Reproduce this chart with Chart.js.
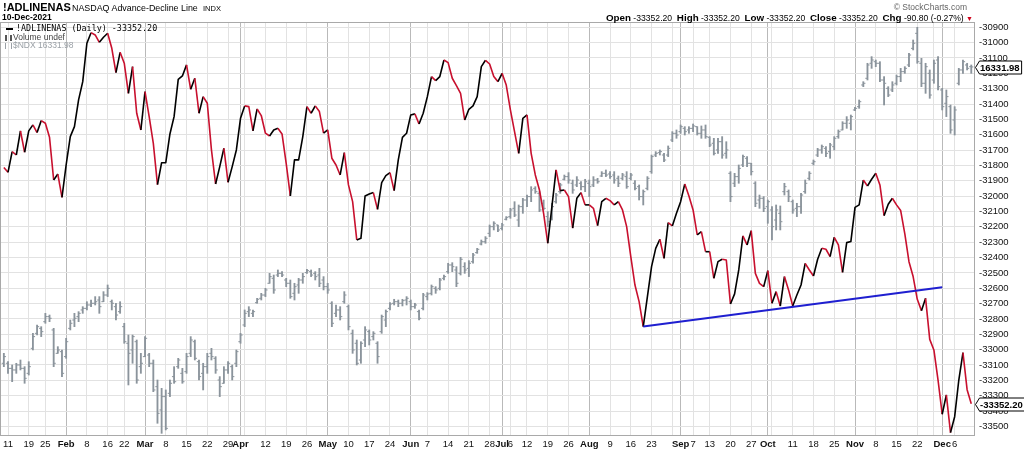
<!DOCTYPE html>
<html><head><meta charset="utf-8">
<script src="https://cdn.jsdelivr.net/npm/chart.js@4.4.1/dist/chart.umd.min.js"></script>
<style>
html,body{margin:0;padding:0;background:#fff;}
#wrap{position:relative;width:1024px;height:452px;overflow:hidden;font-family:"Liberation Sans",Arial,sans-serif;color:#000;}
#c{position:absolute;left:0;top:0;}
.t{position:absolute;white-space:nowrap;line-height:1;}
</style></head><body>
<div id="wrap">
<canvas id="c" width="1024" height="452"></canvas>
<div class="t" style="left:3px;top:2px;font-weight:bold;font-size:11px;">!ADLINENAS</div>
<div class="t" style="left:72px;top:3.5px;font-size:8.9px;">NASDAQ Advance-Decline Line</div>
<div class="t" style="left:203px;top:4.5px;font-size:7.5px;">INDX</div>
<div class="t" style="left:2px;top:13px;font-weight:bold;font-size:8.5px;">10-Dec-2021</div>
<div class="t" style="left:6px;top:24px;font-family:'DejaVu Sans Mono',monospace;font-size:8.4px;"><span style="display:inline-block;width:7px;height:2px;background:#000;vertical-align:middle;margin-right:3px"></span>!ADLINENAS (Daily) -33352.20</div>
<div class="t" style="left:5px;top:33px;font-size:8.5px;color:#444;"><span style="display:inline-block;width:7px;height:6px;border-left:2px solid #555;border-right:2px solid #555;box-sizing:border-box;margin-right:1px;vertical-align:-1px"></span>Volume undef</div>
<div class="t" style="left:5px;top:41px;font-size:8.5px;color:#9aa0a6;"><span style="display:inline-block;width:7px;height:6px;border-left:1px solid #9aa0a6;border-right:1px solid #9aa0a6;box-sizing:border-box;margin-right:1px;vertical-align:-1px"></span>$NDX 16331.98</div>
<div class="t" style="right:57px;top:3px;font-size:8.5px;color:#666;">© StockCharts.com</div>
<div class="t" style="right:51px;top:12.5px;font-size:8.6px;"><b style="font-size:9.8px">Open</b> -33352.20&nbsp; <b style="font-size:9.8px">High</b> -33352.20&nbsp; <b style="font-size:9.8px">Low</b> -33352.20&nbsp; <b style="font-size:9.8px">Close</b> -33352.20&nbsp; <b style="font-size:9.8px">Chg</b> -90.80 (-0.27%) <span style="color:#d0021b;font-size:7px">▼</span></div>
</div>
<script>
// ---- data (one value per trading day, Jan 8 2021 .. Dec 10 2021) ----
const adLine = [
-31814,-31845,-31710,-31732,-31575,-31714,-31575,-31536,-31586,-31508,
-31525,-31617,-31895,-31856,-32008,-31797,-31612,-31547,-31373,-31254,
-31004,-30935,-30950,-30998,-30965,-30939,-31037,-31195,-31063,-31134,
-31330,-31156,-31460,-31569,-31319,-31482,-31656,-31925,-31782,-31782,
-31595,-31482,-31239,-31217,-31145,-31304,-31232,-31460,-31352,-31395,
-31699,-31921,-31808,-31688,-31910,-31808,-31699,-31493,-31412,-31417,
-31575,-31432,-31475,-31590,-31608,-31569,-31558,-31595,-31786,-31999,
-31764,-31764,-31612,-31417,-31460,-31412,-31449,-31590,-31569,-31753,
-31797,-31862,-31716,-31927,-32036,-32285,-32275,-31999,-31986,-31977,
-32086,-31912,-31866,-31847,-31964,-31764,-31617,-31590,-31471,-31464,
-31530,-31460,-31352,-31221,-31247,-31221,-31113,-31130,-31232,-31280,
-31330,-31504,-31434,-31412,-31352,-31156,-31115,-31139,-31221,-31254,
-31200,-31276,-31438,-31580,-31721,-31493,-31471,-31721,-31862,-31960,
-32112,-32307,-32068,-31829,-31964,-31960,-32003,-32209,-32014,-31977,
-32057,-32057,-32079,-32192,-32036,-32014,-32029,-32057,-32036,-32090,
-32199,-32394,-32579,-32687,-32850,-32655,-32459,-32340,-32281,-32405,
-32173,-32194,-32112,-32036,-31921,-31999,-32090,-32253,-32231,-32362,
-32362,-32535,-32427,-32411,-32416,-32703,-32637,-32481,-32259,-32318,
-32225,-32503,-32568,-32590,-32485,-32698,-32622,-32716,-32524,-32611,
-32716,-32644,-32579,-32438,-32481,-32520,-32411,-32340,-32346,-32394,
-32268,-32318,-32496,-32303,-32296,-32073,-32057,-31895,-31934,-31890,
-31851,-31927,-32127,-32053,-32014,-32057,-32094,-32246,-32427,-32524,
-32672,-32746,-32666,-32933,-33002,-33198,-33421,-33295,-33541,-33437,
-33198,-33020,-33261,-33352.20];

const ndxOpen = [
12998,12998,12941,12923,12979,12941,12885,13166,13335,13391,
13466,13523,13373,13110,13129,13073,13391,13485,13523,13598,
13616,13654,13673,13710,13691,13766,13691,13635,13579,13410,
13223,13148,13241,12960,13073,13091,12998,12735,12473,12623,
12660,12848,12960,12885,12904,13110,13241,13016,12885,12960,
13110,13054,12810,12773,12923,12960,12998,13241,13429,13579,
13560,13680,13729,13766,13898,13954,13991,14010,13935,13898,
13785,13879,13935,14018,14029,14010,13991,13935,13860,13673,
13560,13598,13691,13635,13335,13223,13035,13260,13354,13298,
13223,13354,13485,13616,13673,13691,13673,13710,13691,13635,
13579,13616,13748,13785,13841,13841,13954,14029,14104,14048,
14010,14085,14066,14141,14243,14340,14366,14460,14535,14554,
14516,14618,14648,14741,14610,14760,14835,14873,14966,14910,
14798,14648,14629,14816,14929,15068,15098,15023,15004,15023,
14985,15023,15004,15060,15105,15135,15128,15116,15079,15079,
15098,15079,15023,14985,14873,14966,15154,15341,15368,15341,
15341,15510,15585,15604,15641,15623,15641,15660,15585,15623,
15540,15473,15398,15491,15360,15135,15023,15098,15229,15304,
15248,15023,14835,14854,14760,14723,14610,14685,14929,14929,
14816,14741,14760,14929,15079,15248,15341,15398,15416,15379,
15435,15548,15623,15698,15698,15848,15885,16129,16204,16373,
16391,16373,16185,16091,16073,16148,16223,16279,16354,16541,
16710,16373,16148,16260,16185,16410,16073,15923,15885,15735,
16148,16298,16354,16335];

const ndxHigh = [
13110,13016,12979,12998,13035,12960,13016,13335,13429,13410,
13560,13541,13391,13185,13148,13279,13485,13560,13579,13635,
13691,13710,13748,13748,13804,13879,13710,13673,13691,13448,
13316,13316,13260,13110,13298,13110,13035,12810,12716,12698,
12810,12960,13054,12941,13110,13298,13260,13035,12998,13110,
13166,13073,12848,12960,13016,12979,13148,13335,13598,13635,
13598,13729,13785,13841,14010,13991,14048,14029,13954,13935,
13898,13954,14010,14055,14048,14029,14066,13973,13898,13691,
13654,13635,13804,13654,13373,13260,13241,13410,13373,13354,
13241,13541,13598,13680,13718,13710,13718,13748,13710,13673,
13598,13785,13793,13879,13860,13954,13991,14123,14130,14085,
14190,14130,14153,14235,14291,14385,14423,14554,14591,14554,
14573,14648,14741,14816,14779,14854,14891,14985,14985,14929,
14835,14704,14798,14910,15023,15116,15143,15060,15098,15041,
15068,15060,15098,15079,15154,15173,15154,15154,15105,15135,
15154,15135,15053,15004,14948,15098,15341,15379,15398,15360,
15443,15604,15623,15679,15660,15660,15690,15660,15668,15679,
15548,15529,15529,15548,15491,15154,15135,15229,15341,15323,
15248,15041,14891,14873,14835,14760,14779,14768,15023,14948,
14835,14798,14910,15060,15154,15285,15416,15454,15435,15473,
15548,15623,15716,15773,15791,15878,15960,16166,16373,16448,
16410,16391,16223,16110,16166,16241,16316,16335,16485,16635,
16778,16429,16373,16298,16410,16448,16091,16073,15904,15885,
16316,16410,16373,16354];

const ndxLow = [
12960,12885,12791,12885,12923,12773,12866,13148,13316,13298,
13448,13466,12960,13110,12848,13054,13373,13410,13466,13560,
13598,13635,13654,13560,13691,13748,13598,13485,13560,13223,
12754,12998,12773,12885,13073,12960,12679,12323,12210,12248,
12623,12773,12941,12773,12885,13073,13035,12810,12698,12885,
13035,12885,12623,12773,12885,12810,12960,13223,13410,13523,
13523,13673,13710,13748,13898,13785,13973,13973,13860,13729,
13710,13785,13898,14010,13973,13935,13860,13823,13785,13410,
13523,13485,13673,13373,13110,12979,12998,13185,13204,13260,
12998,13335,13410,13598,13654,13635,13643,13654,13598,13616,
13485,13598,13710,13766,13785,13823,13935,14010,14029,13860,
13991,14010,13973,14123,14235,14329,14348,14423,14498,14479,
14498,14610,14629,14648,14535,14685,14760,14816,14910,14704,
14723,14535,14610,14798,14910,15060,15023,14910,14985,14948,
14929,14873,14985,15023,15098,15098,15079,15023,14985,15060,
14966,15060,14948,14835,14779,14948,15135,15323,15341,15266,
15323,15491,15529,15585,15566,15585,15604,15566,15529,15529,
15435,15341,15360,15304,15304,14816,14985,15023,15210,15210,
15116,14760,14741,14704,14573,14385,14498,14498,14891,14816,
14685,14648,14685,14910,15060,15229,15323,15360,15323,15304,
15398,15529,15623,15641,15623,15840,15866,16110,16185,16316,
16335,16166,15904,15998,16054,16129,16166,16260,16335,16523,
16373,16110,16035,15979,16148,16073,15848,15773,15585,15566,
16129,16260,16298,16260];

const ndxClose = [
13073,12941,12923,12979,12941,12829,12960,13298,13410,13354,
13523,13504,12998,13148,12885,13241,13448,13504,13560,13616,
13654,13673,13691,13635,13766,13841,13673,13541,13635,13241,
13110,13298,12810,12998,13279,12998,12698,12435,12623,12266,
12773,12791,13035,12791,13073,13260,13054,12848,12960,13073,
13073,12923,12735,12923,12998,12848,13129,13316,13560,13598,
13579,13718,13766,13823,13973,13823,14010,13991,13898,13748,
13860,13935,13973,14040,13991,13973,13898,13860,13823,13448,
13598,13523,13766,13410,13148,12998,13223,13373,13260,13335,
13073,13523,13579,13665,13691,13673,13703,13729,13635,13654,
13504,13766,13778,13860,13823,13935,13973,14104,14085,13898,
14168,14048,14123,14216,14280,14366,14404,14535,14573,14498,
14554,14640,14723,14666,14760,14835,14873,14948,14929,14723,
14741,14591,14760,14891,15004,15098,15060,14948,15060,14985,
15041,14985,15060,15041,15135,15116,15098,15060,15023,15116,
14985,15116,14966,14873,14929,15079,15323,15360,15379,15285,
15416,15585,15566,15660,15604,15641,15668,15585,15623,15548,
15454,15360,15491,15341,15398,14873,15098,15191,15323,15248,
15154,14798,14854,14741,14816,14535,14723,14591,14985,14873,
14723,14760,14891,15023,15135,15266,15398,15435,15360,15454,
15529,15604,15698,15735,15773,15866,15941,16148,16354,16410,
16373,16185,16148,16016,16129,16223,16279,16316,16466,16598,
16391,16148,16335,16016,16373,16110,15885,15998,15623,15848,
16298,16391,16316,16331.98];

// trendline endpoints (trading-day index, value)
const trendX = [154, 226];
const trendY = [-32850, -32594];

// x-axis gridlines / labels (trading-day index from Jan 8)
const xTickIndex = [1,6,10,15,20,25,29,34,39,44,49,54,57,58,63,68,73,78,83,88,93,98,102,107,112,117,120,122,126,131,136,141,146,151,156,161,163,166,170,175,180,184,185,190,195,200,205,210,215,220,224,226,229];
const xTickLabels = ['11','19','25','Feb','8','16','22','Mar','8','15','22','29','Apr','','12','19','26','May','10','17','24','Jun','7','14','21','28','Jul','6','12','19','26','Aug','9','16','23','','Sep','7','13','20','27','Oct','','11','18','25','Nov','8','15','22','','Dec','6'];
const yTickValues = [-30900,-31000,-31100,-31200,-31300,-31400,-31500,-31600,-31700,-31800,-31900,-32000,-32100,-32200,-32300,-32400,-32500,-32600,-32700,-32800,-32900,-33000,-33100,-33200,-33300,-33400,-33500];

// ---- styling ----
const FONT = '"Liberation Sans", Arial, sans-serif';
const RED = '#c8102e', BLACK = '#000000', GRAY = '#8b949c', BLUE = '#1f1fd0';
const isMonth = i => /^[A-Za-z]/.test(xTickLabels[i] || '');

function drawTag(ctx, x0, y, text) {
  ctx.font = 'bold 9.5px ' + FONT;
  const w = ctx.measureText(text).width;
  const yy = Math.round(y) + 0.5, h = 6.5;
  ctx.beginPath();
  ctx.moveTo(x0 + 0.5, yy);
  ctx.lineTo(x0 + 4.5, yy - h);
  ctx.lineTo(x0 + 7 + w, yy - h);
  ctx.lineTo(x0 + 7 + w, yy + h);
  ctx.lineTo(x0 + 4.5, yy + h);
  ctx.closePath();
  ctx.fillStyle = '#fff'; ctx.fill();
  ctx.strokeStyle = '#000'; ctx.lineWidth = 1; ctx.stroke();
  ctx.fillStyle = '#000'; ctx.textBaseline = 'middle'; ctx.textAlign = 'left';
  ctx.fillText(text, x0 + 5, yy + 0.5);
}

const framePlugin = {
  id: 'frameTags',
  afterDraw(chart) {
    const {ctx, chartArea: a, scales} = chart;
    ctx.save();
    ctx.strokeStyle = '#a9a9a9'; ctx.lineWidth = 1;
    ctx.strokeRect(Math.round(a.left) + 0.5, Math.round(a.top) + 0.5, Math.round(a.right - a.left) - 1, Math.round(a.bottom - a.top) - 1);
    const n = ndxClose.length - 1, m = adLine.length - 1;
    drawTag(ctx, a.right, scales.yN.getPixelForValue(ndxClose[n]), ndxClose[n].toFixed(2));
    drawTag(ctx, a.right, scales.y.getPixelForValue(adLine[m]), adLine[m].toFixed(2));
    ctx.restore();
  }
};

new Chart(document.getElementById('c'), {
  type: 'line',
  data: {
    datasets: [
      { type: 'line', label: 'Trend', data: trendX.map((x, i) => ({x, y: trendY[i]})),
        borderColor: BLUE, borderWidth: 2, pointRadius: 0, yAxisID: 'y', order: 0 },
      { type: 'line', label: '!ADLINENAS', data: adLine.map((v, i) => ({x: i, y: v})),
        borderColor: BLACK, borderWidth: 1.6, pointRadius: 0, tension: 0, yAxisID: 'y', order: 1,
        borderJoinStyle: 'round',
        segment: { borderColor: c => c.p1.parsed.y < c.p0.parsed.y ? RED : BLACK } },
      { type: 'scatter', label: 'Open', data: ndxOpen.map((v, i) => ({x: i - 0.25, y: v})),
        pointStyle: 'line', pointRadius: 1.1, pointBorderWidth: 1, borderColor: GRAY, pointBorderColor: GRAY,
        showLine: false, yAxisID: 'yN', order: 2 },
      { type: 'scatter', label: 'Close', data: ndxClose.map((v, i) => ({x: i + 0.25, y: v})),
        pointStyle: 'line', pointRadius: 1.1, pointBorderWidth: 1, borderColor: GRAY, pointBorderColor: GRAY,
        showLine: false, yAxisID: 'yN', order: 2 },
      { type: 'bar', label: '$NDX', data: ndxHigh.map((h, i) => ({x: i, y: [ndxLow[i], h]})),
        backgroundColor: GRAY, borderWidth: 0, barThickness: 1.2, yAxisID: 'yN', order: 3 }
    ]
  },
  options: {
    responsive: false, animation: false, events: [],
    layout: { padding: { top: 22, left: 0, right: 0, bottom: 0 }, autoPadding: false },
    plugins: { legend: { display: false }, tooltip: { enabled: false } },
    scales: {
      x: {
        type: 'linear', min: -0.927, max: 233.9, offset: false, bounds: 'data',
        afterBuildTicks: s => { s.ticks = xTickIndex.map(v => ({value: v})); },
        afterFit: s => { s.height = 16; },
        grid: { offset: false, drawTicks: false, lineWidth: 1,
          color: c => (c.index !== undefined && isMonth(c.index)) ? '#b9b9b9' : '#e2e2e2' },
        border: { display: false },
        ticks: { autoSkip: false, maxRotation: 0, minRotation: 0, padding: 3, color: '#111',
          font: c => ({ family: FONT, size: 9.5, weight: isMonth(c.index) ? 'bold' : 'normal' }),
          callback: (v, i) => xTickLabels[i] }
      },
      y: {
        type: 'linear', position: 'right', min: -33562.7, max: -30865.5, bounds: 'data',
        afterBuildTicks: s => { s.ticks = yTickValues.map(v => ({value: v})); },
        afterFit: s => { s.width = 49; },
        grid: { color: '#e2e2e2', drawTicks: false },
        border: { display: false },
        ticks: { padding: 4, color: '#111', font: { family: FONT, size: 9.5 }, crossAlign: 'near',
          callback: v => String(v) }
      },
      yN: { type: 'linear', display: false, min: 12180, max: 16837.5, bounds: 'data' }
    }
  },
  plugins: [framePlugin]
});
</script>
</body></html>
